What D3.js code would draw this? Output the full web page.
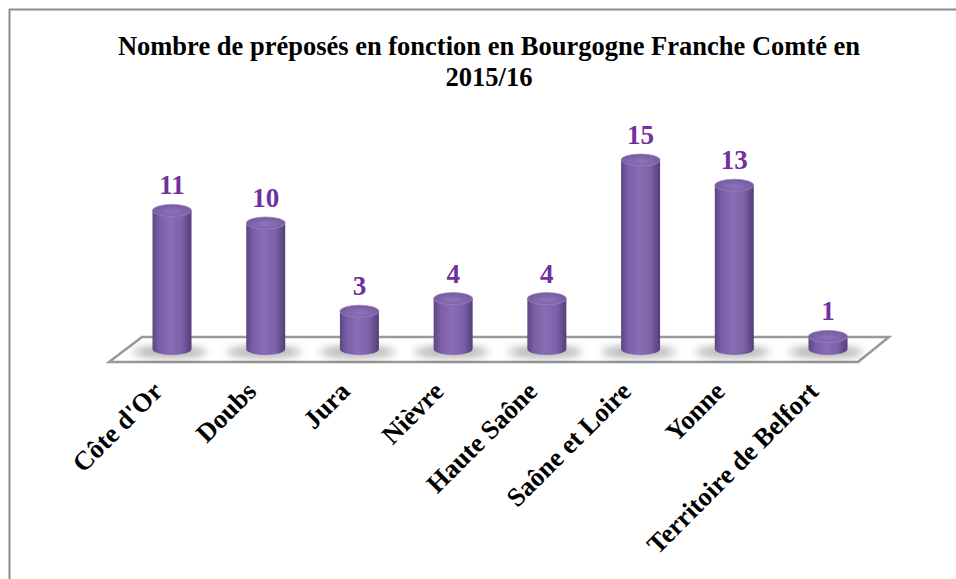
<html>
<head>
  <meta charset="utf-8">
  <script src="https://d3js.org/d3.v7.min.js"></script>
  <style>
    body { margin: 0; background: white; }
  </style>
</head>
<body>
<script>

W = 956;
H = 579;

// data
departements = ["Côte d'Or", "Doubs", "Jura", "Nièvre", "Haute Saône",
                "Saône et Loire", "Yonne", "Territoire de Belfort"];
preposes = [11, 10, 3, 4, 4, 15, 13, 1];
titleLines = ["Nombre de préposés en fonction en Bourgogne Franche Comté en", "2015/16"];

svg = d3.select("body").append("svg")
  .attr("width", W)
  .attr("height", H)

defs = svg.append("defs")

// cylinder body shading
bodyGrad = defs.append("linearGradient").attr("id", "body").attr("x1", 0).attr("x2", 1).attr("y1", 0).attr("y2", 0)
bodyGrad.append("stop").attr("offset", "0%").attr("stop-color", "#5d4683")
bodyGrad.append("stop").attr("offset", "18%").attr("stop-color", "#7a5fa6")
bodyGrad.append("stop").attr("offset", "45%").attr("stop-color", "#8a6db4")
bodyGrad.append("stop").attr("offset", "75%").attr("stop-color", "#7d62a8")
bodyGrad.append("stop").attr("offset", "100%").attr("stop-color", "#553d7a")

topGrad = defs.append("radialGradient").attr("id", "top").attr("cx", "50%").attr("cy", "60%").attr("r", "60%")
topGrad.append("stop").attr("offset", "0%").attr("stop-color", "#8f74b8")
topGrad.append("stop").attr("offset", "100%").attr("stop-color", "#7358a0")

blur = defs.append("filter").attr("id", "blur").attr("x", "-50%").attr("y", "-50%").attr("width", "200%").attr("height", "200%")
blur.append("feGaussianBlur").attr("stdDeviation", 4)

// chart frame (only top and left edges visible)
svg.append("line").attr("x1", 9).attr("x2", W).attr("y1", 9.5).attr("y2", 9.5)
  .attr("stroke", "#8c8c8c").attr("stroke-width", 2)
svg.append("line").attr("x1", 9.5).attr("x2", 9.5).attr("y1", 9).attr("y2", H)
  .attr("stroke", "#8c8c8c").attr("stroke-width", 2)

// title
svg.append("text")
  .attr("x", 489)
  .attr("y", 55)
  .attr("text-anchor", "middle")
  .attr("font-family", "Liberation Serif, Times New Roman, serif")
  .attr("font-weight", "bold")
  .attr("font-size", 26.5)
  .selectAll("tspan")
  .data(titleLines)
  .enter()
  .append("tspan")
  .attr("x", 489)
  .attr("dy", (d, i) => i == 0 ? 0 : 31)
  .text(d => d)

x = d3.scalePoint().domain(departements).range([172, 828])
y = d3.scaleLinear().domain([0, 15]).range([349, 160])

depth = 25;   // floor depth (front edge lower, shifted left)
floorBack = 337;

// floor
floor = d3.path()
floor.moveTo(142, floorBack)
floor.lineTo(889, floorBack)
floor.lineTo(889 - 31, floorBack + depth)
floor.lineTo(142 - 33, floorBack + depth)
floor.closePath()
svg.append("path").attr("d", floor.toString())
  .attr("fill", "white")
  .attr("stroke", "#999")
  .attr("stroke-width", 2.5)

rx = 19.5;
ry = 6;

bars = svg.selectAll("g.bar")
  .data(departements.map((d, i) => ({ name: d, value: preposes[i] })))
  .enter()
  .append("g")
  .attr("class", "bar")

// soft shadow on the floor
bars.append("ellipse")
  .attr("cx", d => x(d.name) - 2)
  .attr("cy", y(0) + 3)
  .attr("rx", rx + 18)
  .attr("ry", 6)
  .attr("fill", "#000")
  .attr("opacity", 0.3)
  .attr("filter", "url(#blur)")

// body
bars.append("path")
  .attr("d", d => {
    let cx = x(d.name), yt = y(d.value), yb = y(0);
    return `M ${cx - rx} ${yt} L ${cx - rx} ${yb} A ${rx} ${ry} 0 0 0 ${cx + rx} ${yb} L ${cx + rx} ${yt} Z`;
  })
  .attr("fill", "url(#body)")

// top cap
bars.append("ellipse")
  .attr("cx", d => x(d.name))
  .attr("cy", d => y(d.value))
  .attr("rx", rx)
  .attr("ry", ry)
  .attr("fill", "url(#top)")
  .attr("stroke", "#9a82c0")
  .attr("stroke-width", 0.8)

// value labels
bars.append("text")
  .attr("x", d => x(d.name))
  .attr("y", d => y(d.value) - 16)
  .attr("text-anchor", "middle")
  .attr("font-family", "Liberation Serif, Times New Roman, serif")
  .attr("font-weight", "bold")
  .attr("font-size", 27)
  .attr("fill", "#7030a0")
  .text(d => d.value)

// category labels
svg.selectAll("text.cat")
  .data(departements)
  .enter()
  .append("text")
  .attr("class", "cat")
  .attr("transform", d => `translate(${x(d) - 8},${393}) rotate(-45)`)
  .attr("text-anchor", "end")
  .attr("font-family", "Liberation Serif, Times New Roman, serif")
  .attr("font-weight", "bold")
  .attr("font-size", 26.5)
  .text(d => d)

</script>
</body>
</html>
